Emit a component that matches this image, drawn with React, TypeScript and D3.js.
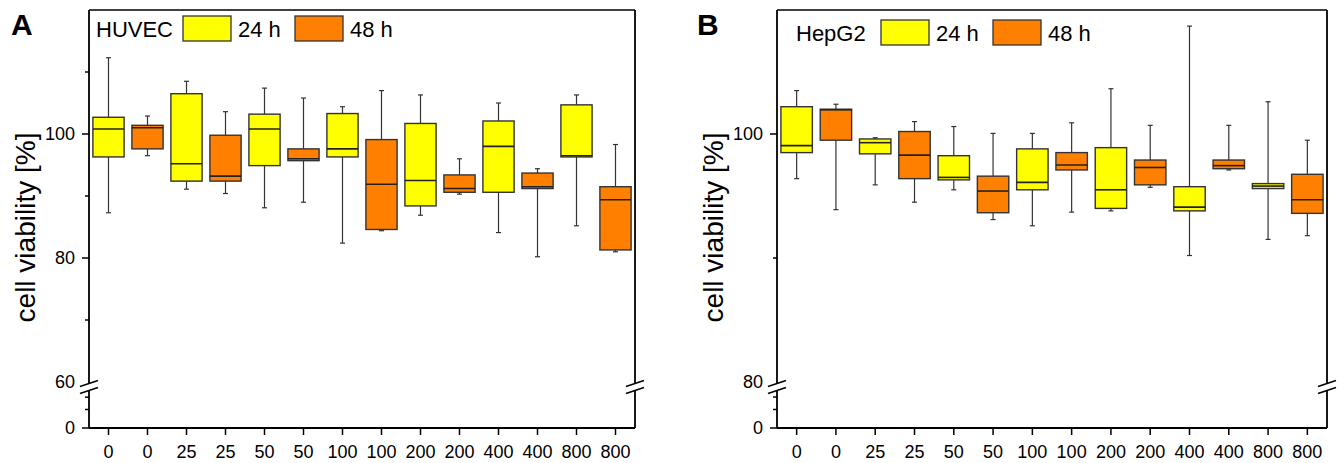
import React from "react";
import * as d3 from "d3";

const WIDTH = 1339;
const HEIGHT = 463;
const FONT = "'Liberation Sans', Arial, sans-serif";

// x categories (concentration), alternating 24 h / 48 h
const categories = ["0", "0", "25", "25", "50", "50", "100", "100", "200", "200", "400", "400", "800", "800"];
const timepoints = ["24 h", "48 h"];
const colors = ["#ffff00", "#ff8000"];

// HUVEC box plot values (cell viability %)
const huvecHigh = [112.3, 102.9, 108.5, 103.6, 107.4, 105.8, 104.4, 107.0, 106.3, 96.0, 105.0, 94.4, 106.3, 98.3];
const huvecQ3 = [102.7, 101.4, 106.5, 99.8, 103.2, 97.6, 103.3, 99.1, 101.7, 93.4, 102.1, 93.7, 104.7, 91.5];
const huvecMedian = [100.8, 101.0, 95.2, 93.2, 100.8, 96.0, 97.6, 91.9, 92.5, 91.2, 98.0, 91.5, 96.5, 89.4];
const huvecQ1 = [96.3, 97.6, 92.4, 92.4, 94.9, 95.7, 96.3, 84.6, 88.4, 90.6, 90.6, 91.2, 96.3, 81.3];
const huvecLow = [87.3, 96.5, 91.1, 90.4, 88.1, 89.0, 82.4, 84.4, 86.9, 90.3, 84.1, 80.2, 85.2, 81.0];

// HepG2 box plot values (cell viability %)
const hepHigh = [103.5, 102.4, 99.7, 101.0, 100.6, 100.05, 100.05, 100.9, 103.65, 100.7, 108.7, 100.7, 102.6, 99.5];
const hepQ3 = [102.2, 102.0, 99.6, 100.2, 98.25, 96.6, 98.8, 98.5, 98.9, 97.9, 95.75, 97.9, 96.0, 96.75];
const hepMedian = [99.06, 101.95, 99.3, 98.3, 96.5, 95.4, 96.1, 97.5, 95.5, 97.3, 94.1, 97.45, 95.8, 94.7];
const hepQ1 = [98.5, 99.5, 98.4, 96.4, 96.3, 93.65, 95.5, 97.1, 94.0, 95.9, 93.8, 97.2, 95.6, 93.6];
const hepLow = [96.4, 93.9, 95.9, 94.5, 95.5, 93.1, 92.6, 93.7, 93.8, 95.7, 90.2, 97.1, 91.5, 91.8];

// axis ticks
const huvecMajor = [80, 100];
const huvecMinor = [70, 90, 110];
const huvecLowerMinor = [30, 50];
const hepMajor = [100];
const hepMinor = [90];
const hepLowerMinor = [40, 67];

const TOP = 10;
const BOTTOM = 428;
const UPPER_BOTTOM = 382;
const BREAK_TOP = 384;
const BREAK_BOTTOM = 391;

function BreakMark({ x }) {
  return (
    <g>
      <rect x={x - 3} y={BREAK_TOP} width={6} height={BREAK_BOTTOM - BREAK_TOP} fill="#fff" />
      {[BREAK_TOP - 0.5, BREAK_BOTTOM - 0.5].map((y, i) => (
        <line key={i} x1={x - 9} y1={y + 3} x2={x + 9} y2={y - 3} stroke="#000" strokeWidth={1.6} />
      ))}
    </g>
  );
}

function Panel({ letter, name, left, right, upperDomain, major, minor, lowerMinor, high, q3, median, q1, low, legend }) {
  const x = d3.scalePoint<number>().domain(d3.range(categories.length)).range([left, right]).padding(0.5);
  const yUp = d3.scaleLinear().domain(upperDomain).range([UPPER_BOTTOM, TOP]);
  const yLow = d3.scaleLinear().domain([0, upperDomain[0]]).range([BOTTOM, BREAK_BOTTOM]);
  const boxW = x.step() * 0.8;
  const cap = 2.5;
  const midY = (128 + 327) / 2;

  return (
    <g fontFamily={FONT}>
      <text x={legend.letterX} y={35} fontSize={30} fontWeight="bold">{letter}</text>
      <text transform={`translate(${legend.labelX},${midY}) rotate(-90)`} textAnchor="middle" fontSize={28}>
        cell viability [%]
      </text>

      {/* boxes */}
      {categories.map((c, i) => {
        const cx = x(i);
        return (
          <g key={i}>
            <line x1={cx} x2={cx} y1={yUp(high[i])} y2={yUp(q3[i])} stroke="#333" strokeWidth={1.2} />
            <line x1={cx} x2={cx} y1={yUp(q1[i])} y2={yUp(low[i])} stroke="#333" strokeWidth={1.2} />
            <line x1={cx - cap} x2={cx + cap} y1={yUp(high[i])} y2={yUp(high[i])} stroke="#333" strokeWidth={1.2} />
            <line x1={cx - cap} x2={cx + cap} y1={yUp(low[i])} y2={yUp(low[i])} stroke="#333" strokeWidth={1.2} />
            <rect x={cx - boxW / 2} y={yUp(q3[i])} width={boxW} height={yUp(q1[i]) - yUp(q3[i])}
              fill={colors[i % 2]} stroke="#333" strokeWidth={1.4} />
            <line x1={cx - boxW / 2} x2={cx + boxW / 2} y1={yUp(median[i])} y2={yUp(median[i])} stroke="#222" strokeWidth={1.6} />
          </g>
        );
      })}

      {/* frame */}
      <line x1={left} x2={right} y1={TOP} y2={TOP} stroke="#000" strokeWidth={1.5} />
      <line x1={left} x2={right} y1={BOTTOM} y2={BOTTOM} stroke="#000" strokeWidth={1.8} />
      {[left, right].map((ax) => (
        <g key={ax}>
          <line x1={ax} x2={ax} y1={TOP} y2={BOTTOM} stroke="#000" strokeWidth={1.8} />
          <BreakMark x={ax} />
        </g>
      ))}

      {/* y ticks */}
      {major.map((v) => (
        <g key={"M" + v}>
          <line x1={left - 7} x2={left} y1={yUp(v)} y2={yUp(v)} stroke="#000" strokeWidth={1.5} />
          <text x={left - 14} y={yUp(v)} dy="0.35em" textAnchor="end" fontSize={18}>{v}</text>
        </g>
      ))}
      {minor.map((v) => (
        <line key={"m" + v} x1={left - 4} x2={left} y1={yUp(v)} y2={yUp(v)} stroke="#000" strokeWidth={1.5} />
      ))}
      <text x={left - 14} y={yUp(upperDomain[0])} dy="0.35em" textAnchor="end" fontSize={18}>{upperDomain[0]}</text>
      {lowerMinor.map((v) => (
        <line key={"l" + v} x1={left - 4} x2={left} y1={yLow(v)} y2={yLow(v)} stroke="#000" strokeWidth={1.5} />
      ))}
      <line x1={left - 7} x2={left} y1={yLow(0)} y2={yLow(0)} stroke="#000" strokeWidth={1.5} />
      <text x={left - 14} y={yLow(0)} dy="0.35em" textAnchor="end" fontSize={18}>0</text>

      {/* x ticks */}
      {categories.map((c, i) => (
        <g key={"x" + i}>
          <line x1={x(i)} x2={x(i)} y1={BOTTOM} y2={BOTTOM + 7} stroke="#000" strokeWidth={1.5} />
          <text x={x(i)} y={458} textAnchor="middle" fontSize={18}>{c}</text>
        </g>
      ))}

      {/* legend */}
      <text x={legend.nameX} y={legend.y + 21} fontSize={22}>{name}</text>
      {timepoints.map((t, k) => (
        <g key={t}>
          <rect x={legend.swatchX[k]} y={legend.y} width={48} height={25} fill={colors[k]} stroke="#333" strokeWidth={1.3} />
          <text x={legend.swatchX[k] + 55} y={legend.y + 21} fontSize={22}>{t}</text>
        </g>
      ))}
    </g>
  );
}

export default function App() {
  return (
    <svg width={WIDTH} height={HEIGHT} style={{ position: "absolute", left: 0, top: 0, background: "#fff" }}>
      <rect width={WIDTH} height={HEIGHT} fill="#fff" />
      <Panel letter="A" name="HUVEC" left={89} right={635} upperDomain={[60, 120]}
        major={huvecMajor} minor={huvecMinor} lowerMinor={huvecLowerMinor}
        high={huvecHigh} q3={huvecQ3} median={huvecMedian} q1={huvecQ1} low={huvecLow}
        legend={{ letterX: 11, labelX: 35, nameX: 96, y: 16, swatchX: [183, 295] }} />
      <Panel letter="B" name="HepG2" left={777} right={1327} upperDomain={[80, 110]}
        major={hepMajor} minor={hepMinor} lowerMinor={hepLowerMinor}
        high={hepHigh} q3={hepQ3} median={hepMedian} q1={hepQ1} low={hepLow}
        legend={{ letterX: 697, labelX: 723, nameX: 796, y: 20, swatchX: [881, 993] }} />
    </svg>
  );
}
